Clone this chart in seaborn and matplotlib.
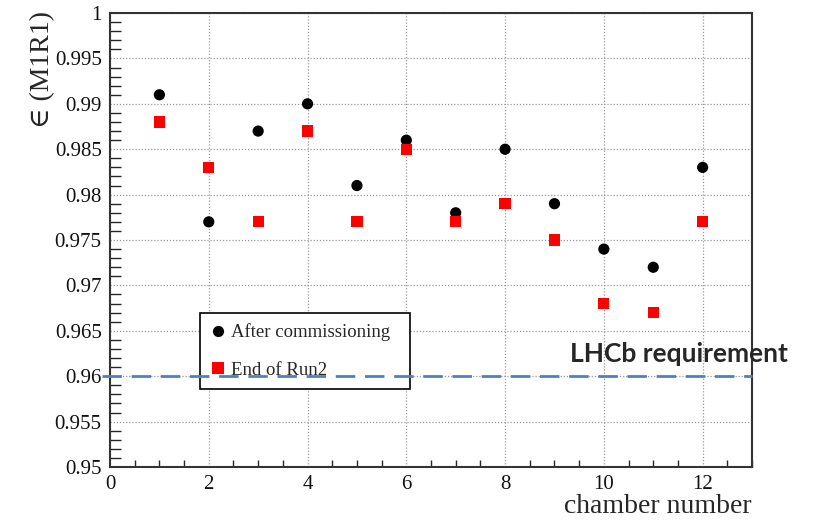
import matplotlib
matplotlib.use("Agg")
import matplotlib.pyplot as plt
from matplotlib.ticker import MultipleLocator, FormatStrFormatter
import pandas as pd
import seaborn as sns

# Chamber efficiencies for M1R1
chambers = [1, 2, 3, 4, 5, 6, 7, 8, 9, 10, 11, 12]
after_commissioning = [0.991, 0.977, 0.987, 0.990, 0.981, 0.986,
                       0.978, 0.985, 0.979, 0.974, 0.972, 0.983]
end_of_run2 = [0.988, 0.983, 0.977, 0.987, 0.977, 0.985,
               0.977, 0.979, 0.975, 0.968, 0.967, 0.977]
series_names = ["After commissioning", "End of Run2"]
requirement = 0.96
requirement_label = "LHCb requirement"

df = pd.DataFrame({
    "chamber": chambers * 2,
    "eff": after_commissioning + end_of_run2,
    "series": [series_names[0]] * len(chambers) + [series_names[1]] * len(chambers),
})

sns.set_theme(style="white")
plt.rcParams["font.family"] = ["Liberation Serif", "DejaVu Serif"]
plt.rcParams["mathtext.fontset"] = "stix"

fig = plt.figure(figsize=(8.16, 5.22), dpi=100)
ax = fig.add_axes([0.1348, 0.1054, 0.7868, 0.8696])

sns.scatterplot(data=df, x="chamber", y="eff", hue="series", style="series",
                hue_order=series_names, style_order=series_names,
                palette=["black", "#ff0000"], markers=["o", "s"],
                s=65, edgecolor="none", linewidth=0, ax=ax, zorder=3)

# requirement threshold drawn on top of the legend box
ax.axhline(requirement, xmin=-0.012, xmax=1.0, color="#4f81bd", lw=2,
           dashes=(7, 3.5), clip_on=False, zorder=6)

ax.set_xlim(0, 13)
ax.set_ylim(0.95, 1.0)
ax.xaxis.set_major_locator(MultipleLocator(2))
ax.xaxis.set_minor_locator(MultipleLocator(0.5))
ax.yaxis.set_major_locator(MultipleLocator(0.005))
ax.yaxis.set_minor_locator(MultipleLocator(0.001))
ax.yaxis.set_major_formatter(FormatStrFormatter("%g"))
ax.xaxis.set_major_formatter(FormatStrFormatter("%g"))

ax.grid(True, which="major", color="#999999", linestyle=(0, (1, 1.5)), lw=0.9)
ax.set_axisbelow(True)

for sp in ax.spines.values():
    sp.set_color("#333333")
    sp.set_linewidth(1.5)

ax.tick_params(axis="both", which="major", direction="in", labelsize=15,
               colors="#111111", width=1.2, pad=6)
ax.tick_params(axis="y", which="major", length=15)
ax.tick_params(axis="y", which="minor", direction="in", length=8, width=1.0,
               left=True)
ax.tick_params(axis="x", which="major", length=11, pad=6)
ax.tick_params(axis="x", which="minor", direction="in", length=5, width=1.0,
               bottom=True)

ax.set_xlabel("chamber number", fontsize=20, loc="right", labelpad=0)
ax.set_ylabel("\u2208 (M1R1)", fontsize=20, loc="top")
ax.yaxis.set_label_coords(-0.086, 1.005)

leg = ax.legend(loc="upper left", bbox_to_anchor=(0.14, 0.339, 0.327, 0.0),
                mode="expand", borderaxespad=0, fontsize=13.5, frameon=True,
                fancybox=False, edgecolor="black", framealpha=1,
                borderpad=0.55, labelspacing=1.1, handletextpad=0.3,
                handlelength=0.8, markerscale=1.0)
leg.get_frame().set_linewidth(1.2)
leg.set_zorder(5)

ax.text(0.7165, 0.231, requirement_label, transform=ax.transAxes,
        fontsize=19, fontweight="bold", family=["Lato", "DejaVu Sans"],
        va="baseline", ha="left", clip_on=False, zorder=7)

fig.savefig("out.png", dpi=100)
